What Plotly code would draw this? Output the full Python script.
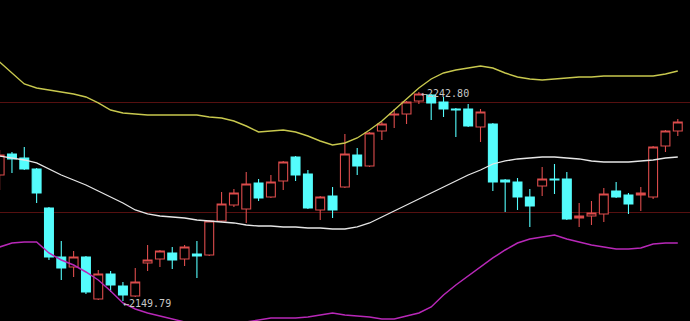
import plotly.graph_objects as go

# Candle data (index order, left to right)
opens = [2205.87, 2215.21, 2213.43, 2208.54, 2191.18, 2169.38, 2164.93, 2169.38, 2150.69, 2161.81,
         2156.47, 2152.02, 2166.71, 2168.49, 2171.16, 2168.49, 2170.71, 2170.27, 2185.40, 2192.52,
         2190.74, 2202.31, 2196.08, 2203.20, 2213.88, 2206.31, 2190.29, 2196.52, 2200.53, 2214.77,
         2209.87, 2225.45, 2232.57, 2233.01, 2238.80, 2241.47, 2238.35, 2235.24, 2235.24, 2227.23,
         2228.56, 2203.64, 2202.75, 2196.08, 2200.97, 2204.09, 2204.09, 2186.73, 2187.62, 2188.51,
         2198.75, 2196.97, 2196.97, 2196.08, 2218.77, 2225.45]
highs = [2216.99, 2216.10, 2218.33, 2208.98, 2191.63, 2176.50, 2172.05, 2169.82, 2163.59, 2163.15,
         2158.25, 2164.48, 2174.72, 2172.49, 2173.83, 2174.72, 2176.50, 2185.84, 2198.30, 2199.64,
         2207.20, 2204.09, 2205.87, 2212.10, 2214.32, 2208.09, 2196.52, 2200.53, 2224.11, 2217.88,
         2225.00, 2229.45, 2235.24, 2238.80, 2242.80, 2241.91, 2240.58, 2235.68, 2237.46, 2235.24,
         2229.01, 2204.09, 2204.53, 2199.64, 2209.43, 2210.76, 2207.20, 2193.41, 2194.30, 2200.08,
         2202.75, 2197.86, 2200.53, 2218.77, 2225.89, 2230.79]
lows = [2199.19, 2206.76, 2208.09, 2193.41, 2168.04, 2159.14, 2160.48, 2152.91, 2150.24, 2153.80,
        2149.79, 2151.58, 2163.15, 2164.93, 2164.04, 2165.37, 2160.03, 2169.82, 2184.95, 2191.63,
        2184.51, 2194.30, 2195.63, 2199.19, 2203.20, 2190.74, 2185.84, 2186.73, 2200.08, 2205.87,
        2209.43, 2221.44, 2226.78, 2228.56, 2237.46, 2230.34, 2231.68, 2222.78, 2227.23, 2220.55,
        2198.75, 2189.40, 2190.29, 2182.73, 2196.52, 2197.41, 2185.84, 2182.73, 2183.62, 2184.95,
        2195.63, 2188.51, 2189.85, 2195.19, 2216.10, 2223.22]
closes = [2214.77, 2212.99, 2208.54, 2197.86, 2169.38, 2164.48, 2169.38, 2153.80, 2161.81, 2156.92,
          2152.47, 2158.25, 2168.04, 2172.05, 2168.04, 2173.83, 2169.82, 2185.40, 2192.96, 2197.86,
          2201.86, 2195.63, 2202.75, 2211.65, 2205.87, 2191.18, 2196.08, 2190.29, 2215.21, 2209.87,
          2224.56, 2228.56, 2233.01, 2238.35, 2241.91, 2237.91, 2235.24, 2234.79, 2227.67, 2233.90,
          2202.75, 2202.75, 2196.08, 2192.07, 2204.09, 2203.64, 2186.29, 2187.62, 2188.96, 2197.41,
          2196.08, 2192.96, 2197.86, 2218.33, 2225.45, 2229.45]

# Bollinger bands
upper = [2256.15, 2251.26, 2246.36, 2244.58, 2243.69, 2242.80, 2241.91, 2240.58, 2237.91, 2234.79,
         2233.46, 2233.01, 2232.57, 2232.57, 2232.57, 2232.57, 2232.57, 2231.68, 2231.23, 2229.90,
         2227.67, 2225.00, 2225.45, 2225.89, 2225.00, 2223.22, 2221.00, 2219.22, 2220.11, 2222.33,
         2225.89, 2229.90, 2234.79, 2239.69, 2244.58, 2248.59, 2251.26, 2252.59, 2253.48, 2254.37,
         2253.48, 2251.26, 2249.48, 2248.59, 2248.14, 2248.59, 2249.03, 2249.48, 2249.48, 2249.92,
         2249.92, 2249.92, 2249.92, 2249.92, 2250.81, 2252.15]
middle = [2214.32, 2213.43, 2212.54, 2211.21, 2208.54, 2205.87, 2203.64, 2201.42, 2198.75, 2196.08,
          2193.41, 2190.29, 2188.51, 2187.62, 2187.18, 2186.73, 2185.84, 2185.40, 2184.95, 2184.51,
          2183.62, 2183.17, 2183.17, 2182.73, 2182.73, 2182.28, 2182.28, 2181.84, 2181.84, 2182.73,
          2184.51, 2187.18, 2189.85, 2192.52, 2195.19, 2197.86, 2200.53, 2203.20, 2205.87, 2208.09,
          2210.76, 2212.10, 2212.99, 2213.43, 2213.88, 2213.88, 2213.43, 2212.99, 2212.10, 2211.65,
          2211.65, 2211.65, 2212.10, 2212.54, 2213.43, 2213.88]
lower = [2173.83, 2175.61, 2176.05, 2176.05, 2171.16, 2168.04, 2165.82, 2162.70, 2159.14, 2154.25,
         2148.91, 2146.24, 2144.46, 2143.12, 2141.79, 2140.45, 2139.12, 2138.67, 2139.12, 2139.56,
         2140.45, 2141.34, 2142.23, 2142.23, 2142.23, 2142.68, 2143.57, 2144.46, 2143.57, 2143.12,
         2142.68, 2141.79, 2141.79, 2143.12, 2144.46, 2147.13, 2152.47, 2156.92, 2160.92, 2164.93,
         2168.93, 2172.49, 2175.61, 2177.39, 2178.28, 2179.17, 2177.39, 2176.05, 2174.72, 2173.83,
         2172.94, 2172.94, 2173.38, 2175.16, 2175.61, 2175.61]

grid_levels = [2237.91, 2188.96]
high_label = "←2242.80"
low_label = "←2149.79"

x = list(range(len(opens)))
hi_idx = highs.index(max(highs))
lo_idx = lows.index(min(lows))

fig = go.Figure()
fig.add_trace(go.Scatter(x=x, y=upper, mode="lines", line=dict(color="#c8c84e", width=1.4), hoverinfo="skip"))
fig.add_trace(go.Scatter(x=x, y=middle, mode="lines", line=dict(color="#e6e6e6", width=1.3), hoverinfo="skip"))
fig.add_trace(go.Scatter(x=x, y=lower, mode="lines", line=dict(color="#b828b8", width=1.5), hoverinfo="skip"))
fig.add_trace(go.Candlestick(
    x=x, open=opens, high=highs, low=lows, close=closes,
    increasing=dict(line=dict(color="#dc4c4c", width=1.1), fillcolor="#000000"),
    decreasing=dict(line=dict(color="#54fcfc", width=1.1), fillcolor="#54fcfc"),
    whiskerwidth=0, hoverinfo="skip",
))

fig.add_annotation(x=x[hi_idx], y=highs[hi_idx], text=high_label, showarrow=False,
                   xanchor="left", yanchor="middle", yshift=-1,
                   font=dict(family="DejaVu Sans Mono", size=10, color="#c8c8c8"))
fig.add_annotation(x=x[lo_idx], y=lows[lo_idx], text=low_label, showarrow=False,
                   xanchor="left", yanchor="middle", yshift=-2, xshift=-2,
                   font=dict(family="DejaVu Sans Mono", size=10, color="#c8c8c8"))

fig.update_layout(
    width=690, height=321, margin=dict(l=0, r=0, t=0, b=0),
    paper_bgcolor="#000000", plot_bgcolor="#000000",
    showlegend=False, boxgap=0.28, boxgroupgap=0,
    xaxis=dict(range=[0.03, 55.99], visible=False, rangeslider=dict(visible=False), fixedrange=True),
    yaxis=dict(range=[2140.89, 2283.74], showticklabels=False, zeroline=False, showline=False,
               tickvals=grid_levels, showgrid=True, gridcolor="#561010", gridwidth=1, fixedrange=True),
)

fig.write_html("out.html")
